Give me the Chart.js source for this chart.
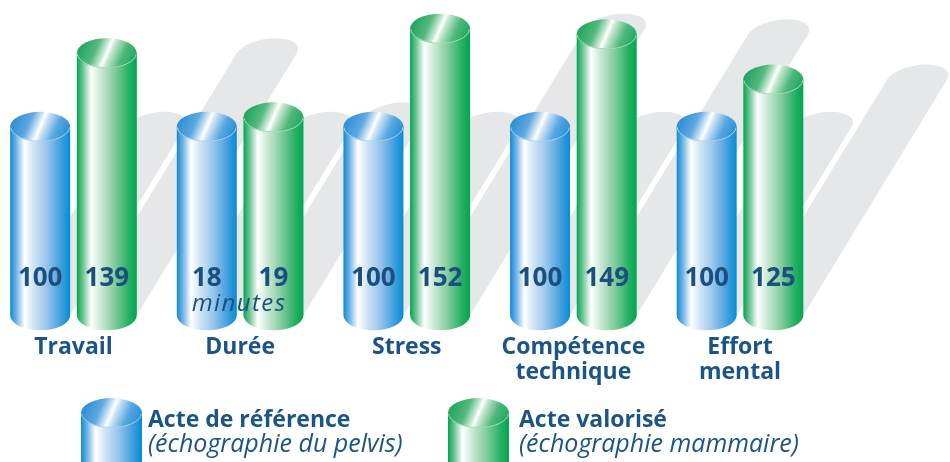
<!DOCTYPE html>
<html>
<head>
<meta charset="utf-8">
<script src="https://cdn.jsdelivr.net/npm/chart.js@4"></script>
<style>
  html, body { margin: 0; padding: 0; background: #fff; }
  canvas { display: block; }
</style>
</head>
<body>
<canvas id="bar-chart" width="950" height="462"></canvas>
<script>
const categories = [['Travail'], ['Durée'], ['Stress'], ['Compétence', 'technique'], ['Effort', 'mental']];
// bar heights (index, acte de référence = 100)
const referenceHeights = [100, 100, 100, 100, 100];
const valoriseHeights = [139, 105, 152, 149, 125];
// numbers printed on the bars
const referenceLabels = ['100', '18', '100', '100', '100'];
const valoriseLabels = ['139', '19', '152', '149', '125'];
const unitNotes = ['', 'minutes', '', '', ''];
const legendTitles = ['Acte de référence', 'Acte valorisé'];
const legendNotes = ['(échographie du pelvis)', '(échographie mammaire)'];

const textColor = '#1b5486';
const FONT = '"Open Sans", "DejaVu Sans", sans-serif';

const palettes = [
  {
    body: [[0, '#0d8bd4'], [0.1, '#6fb2e5'], [0.24, '#ffffff'], [0.38, '#d3e6f6'], [0.62, '#94c3ec'], [0.86, '#3d9cdd'], [1, '#038dd6']],
    top: [[0, '#1f86cf'], [0.32, '#5ea8e1'], [0.45, '#cfe4f6'], [0.5, '#ffffff'], [0.56, '#cbe2f5'], [0.74, '#58a6e0'], [1, '#138ad3']],
    rim: '#a9d2f2',
  },
  {
    body: [[0, '#00a650'], [0.1, '#6cc493'], [0.24, '#ffffff'], [0.38, '#d0ebd9'], [0.62, '#86cda0'], [0.86, '#27b064'], [1, '#00a651']],
    top: [[0, '#0f9d54'], [0.32, '#55b97f'], [0.45, '#c8e9d3'], [0.5, '#ffffff'], [0.56, '#c4e7cf'], [0.74, '#4fb87b'], [1, '#0aa455']],
    rim: '#a8dcb9',
  },
];

const RY = 15;
const SHEAR = 0.61;

function gradient(ctx, x0, y0, x1, y1, stops) {
  const g = ctx.createLinearGradient(x0, y0, x1, y1);
  stops.forEach(s => g.addColorStop(s[0], s[1]));
  return g;
}

function drawCylinder(ctx, cx, topY, baseY, w, pal) {
  const rx = w / 2;
  ctx.beginPath();
  ctx.moveTo(cx - rx, topY);
  ctx.lineTo(cx - rx, baseY);
  ctx.ellipse(cx, baseY, rx, RY, 0, Math.PI, 0, true);
  ctx.lineTo(cx + rx, topY);
  ctx.closePath();
  ctx.fillStyle = gradient(ctx, cx - rx, 0, cx + rx, 0, pal.body);
  ctx.fill();

  ctx.beginPath();
  ctx.ellipse(cx, topY, rx, RY, 0, 0, Math.PI * 2);
  ctx.fillStyle = gradient(ctx, cx - rx, topY - 13, cx + rx, topY + 13, pal.top);
  ctx.fill();

  ctx.beginPath();
  ctx.ellipse(cx, topY, rx - 0.5, RY - 0.5, 0, 0.05, Math.PI - 0.05);
  ctx.strokeStyle = pal.rim;
  ctx.lineWidth = 1;
  ctx.stroke();
}

function barProps(chart, di) {
  return chart.getDatasetMeta(di).data.map(el => el.getProps(['x', 'y', 'base', 'width'], true));
}

const cylinders = {
  id: 'cylinders',
  beforeDatasetsDraw(chart) {
    const ctx = chart.ctx;
    ctx.save();
    ctx.fillStyle = '#e6e7e8';
    [0, 1].forEach(di => {
      barProps(chart, di).forEach(b => {
        const rx = b.width / 2;
        ctx.save();
        ctx.transform(1, 0, -SHEAR, 1, SHEAR * b.base, 0);
        ctx.beginPath();
        ctx.rect(b.x - rx, b.y, b.width, b.base - b.y);
        ctx.fill();
        ctx.beginPath();
        ctx.ellipse(b.x, b.y, rx, RY, 0, 0, Math.PI * 2);
        ctx.fill();
        ctx.restore();
      });
    });
    ctx.restore();
  },
  afterDatasetsDraw(chart) {
    const ctx = chart.ctx;
    const yScale = chart.scales.y;
    const xScale = chart.scales.x;
    ctx.save();
    [0, 1].forEach(di => {
      barProps(chart, di).forEach(b => drawCylinder(ctx, b.x, b.y, b.base, b.width, palettes[di]));
    });
    const numberY = yScale.getPixelForValue(0) - 29;
    ctx.fillStyle = '#1a4f7e';
    ctx.textAlign = 'center';
    ctx.textBaseline = 'alphabetic';
    ctx.font = 'bold 26px ' + FONT;
    [referenceLabels, valoriseLabels].forEach((labels, di) => {
      barProps(chart, di).forEach((b, i) => ctx.fillText(labels[i], b.x, numberY));
    });
    ctx.font = 'italic 24px ' + FONT;
    ctx.letterSpacing = '1.4px';
    unitNotes.forEach((note, i) => {
      if (note) ctx.fillText(note, xScale.getPixelForValue(i) - 1, numberY + 25);
    });
    ctx.restore();
  },
  afterDraw(chart) {
    const ctx = chart.ctx;
    const iconX = [111.5, 478.5];
    const textX = [148, 519];
    ctx.save();
    legendTitles.forEach((title, i) => {
      drawCylinder(ctx, iconX[i], 413, 480, 61, palettes[i]);
      ctx.fillStyle = textColor;
      ctx.textAlign = 'left';
      ctx.textBaseline = 'alphabetic';
      ctx.font = 'bold 23px ' + FONT;
      ctx.fillText(title, textX[i], 427);
      ctx.font = 'italic 25px ' + FONT;
      ctx.fillText(legendNotes[i], textX[i], 452);
    });
    ctx.restore();
  },
};

new Chart(document.getElementById('bar-chart'), {
  type: 'bar',
  data: {
    labels: categories,
    datasets: [
      {
        label: legendTitles[0],
        data: referenceHeights,
        backgroundColor: 'rgba(0,0,0,0)',
      },
      {
        label: legendTitles[1],
        data: valoriseHeights,
        backgroundColor: 'rgba(0,0,0,0)',
      },
    ],
  },
  options: {
    responsive: false,
    animation: false,
    devicePixelRatio: 1,
    categoryPercentage: 0.8,
    barPercentage: 0.9,
    layout: {
      padding: { left: 73.5, right: 210, top: 13.6, bottom: 57 },
    },
    scales: {
      x: {
        offset: false,
        grid: { display: false, drawTicks: false },
        border: { display: false },
        ticks: {
          padding: 20,
          autoSkip: false,
          maxRotation: 0,
          color: textColor,
          font: { family: FONT, size: 23, weight: 'bold', lineHeight: 1.08 },
        },
      },
      y: {
        display: false,
        min: 0,
        max: 160,
      },
    },
    plugins: {
      legend: { display: false },
      tooltip: { enabled: false },
    },
  },
  plugins: [cylinders],
});
</script>
</body>
</html>
